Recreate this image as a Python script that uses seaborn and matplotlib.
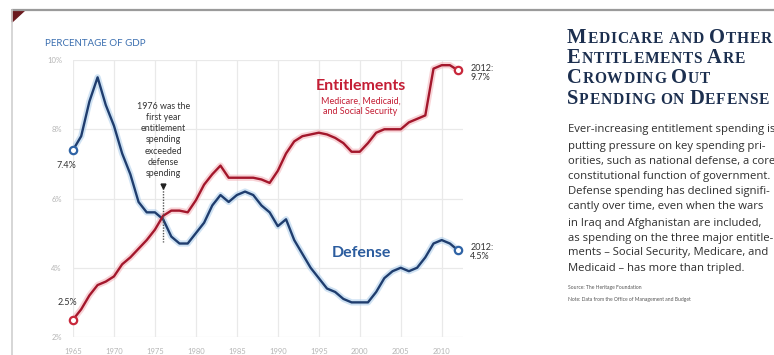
import matplotlib
matplotlib.use("Agg")
import matplotlib.pyplot as plt
import seaborn as sns
import pandas as pd
from matplotlib.lines import Line2D
from matplotlib.patches import Polygon

# ---------------- data ----------------
years = list(range(1965, 2013))
defense = [7.4, 7.8, 8.8, 9.5, 8.7, 8.1, 7.3, 6.7, 5.9, 5.6,
           5.6, 5.4, 4.9, 4.7, 4.7, 5.0, 5.3, 5.8, 6.1, 5.9,
           6.1, 6.2, 6.1, 5.8, 5.6, 5.2, 5.4, 4.8, 4.4, 4.0,
           3.7, 3.4, 3.3, 3.1, 3.0, 3.0, 3.0, 3.3, 3.7, 3.9,
           4.0, 3.9, 4.0, 4.3, 4.7, 4.8, 4.7, 4.5]
entitlements = [2.5, 2.8, 3.2, 3.5, 3.6, 3.75, 4.1, 4.3, 4.55, 4.8,
                5.1, 5.5, 5.65, 5.65, 5.6, 5.95, 6.4, 6.7, 6.95, 6.6,
                6.6, 6.6, 6.6, 6.55, 6.45, 6.8, 7.3, 7.65, 7.8, 7.85,
                7.9, 7.85, 7.75, 7.6, 7.35, 7.35, 7.6, 7.9, 8.0, 8.0,
                8.0, 8.2, 8.3, 8.4, 9.75, 9.85, 9.85, 9.7]
x_ticks = [1965, 1970, 1975, 1980, 1985, 1990, 1995, 2000, 2005, 2010]
y_ticks = [2, 4, 6, 8, 10]
y_tick_labels = ["2%", "4%", "6%", "8%", "10%"]

# title written as in title case; rendered as small caps
title_lines = ["Medicare and Other", "Entitlements Are", "Crowding Out", "Spending on Defense"]
body_lines = [
    "Ever-increasing entitlement spending is",
    "putting pressure on key spending pri-",
    "orities, such as national defense, a core",
    "constitutional function of government.",
    "Defense spending has declined signifi-",
    "cantly over time, even when the wars",
    "in Iraq and Afghanistan are included,",
    "as spending on the three major entitle-",
    "ments \u2013 Social Security, Medicare, and",
    "Medicaid \u2013 has more than tripled.",
]
source_text = "Source: The Heritage Foundation"
note_text = "Note: Data from the Office of Management and Budget"
annot_text = "1976 was the\nfirst year\nentitlement\nspending\nexceeded\ndefense\nspending"

df = pd.DataFrame({
    "year": years * 2,
    "pct": defense + entitlements,
    "series": ["Defense"] * len(years) + ["Entitlements"] * len(years),
})

# ---------------- style ----------------
sns.set_theme(style="white")
plt.rcParams["font.family"] = ["Lato", "DejaVu Sans"]

W, H = 774, 355
fig = plt.figure(figsize=(W / 100, H / 100), dpi=100)
fig.patch.set_facecolor("white")

def fx(px):
    return px / W

def fy(py):
    return 1 - py / H

ax = fig.add_axes([fx(73), fy(337), fx(463) - fx(73), fy(60) - fy(337)])
ax.set_facecolor("white")

navy = "#1f3d6e"
red = "#a3172c"
glow_pal = {"Defense": "#a9cbea", "Entitlements": "#f3b0b6"}
line_pal = {"Defense": navy, "Entitlements": red}

sns.lineplot(data=df, x="year", y="pct", hue="series", palette=glow_pal,
             linewidth=4.5, alpha=0.55, legend=False, ax=ax)
sns.lineplot(data=df, x="year", y="pct", hue="series", palette=line_pal,
             linewidth=1.7, legend=False, ax=ax)

# end markers
ends = pd.DataFrame({
    "year": [years[0], years[-1], years[0], years[-1]],
    "pct": [defense[0], defense[-1], entitlements[0], entitlements[-1]],
    "series": ["Defense", "Defense", "Entitlements", "Entitlements"],
})
edge_pal = {"Defense": "#2f63a5", "Entitlements": "#c8283b"}
for s, c in edge_pal.items():
    sub = ends[ends.series == s]
    sns.scatterplot(data=sub, x="year", y="pct", s=28, facecolor="white",
                    edgecolor=c, linewidth=1.6, ax=ax, zorder=5, clip_on=False,
                    legend=False)

ax.set_xlim(1965, 2012.6)
ax.set_ylim(2, 10)
ax.set_xticks(x_ticks)
ax.set_xticklabels([str(t) for t in x_ticks])
ax.set_yticks(y_ticks)
ax.set_yticklabels(y_tick_labels)
ax.tick_params(axis="both", length=0, labelsize=5.5, labelcolor="#b5b5b5")
ax.tick_params(axis="y", pad=8)
ax.tick_params(axis="x", pad=8)
ax.set_xlabel("")
ax.set_ylabel("")
ax.grid(True, color="#e9e9e9", linewidth=0.9)
for sp in ax.spines.values():
    sp.set_visible(False)
for coll in ax.collections:
    coll.set_clip_on(False)

# annotation
ax.plot([1976, 1976], [6.3, 4.75], linestyle=(0, (1, 1)), color="#555555", linewidth=1.0)
ax.plot([1976], [6.37], marker="v", color="#222222", markersize=3.5)
ax.text(1976, 8.8, annot_text, ha="center", va="top", fontsize=6.4,
        color="#333333", linespacing=1.33)

# series labels
ax.text(2000.1, 9.25, "Entitlements", ha="center", va="center", fontsize=11.5,
        fontweight="bold", color="#c41e35")
ax.text(2000.1, 8.95, "Medicare, Medicaid,\nand Social Security", ha="center", va="top",
        fontsize=6.5, color="#c41e35", linespacing=1.2)
ax.text(2000.2, 4.42, "Defense", ha="center", va="center", fontsize=11.5,
        fontweight="bold", color="#2b5c9e")

ax.text(2013.5, 9.63, "2012:\n9.7%", ha="left", va="center", fontsize=6.5,
        color="#333333", linespacing=1.05)
ax.text(2013.5, 4.45, "2012:\n4.5%", ha="left", va="center", fontsize=6.5,
        color="#333333", linespacing=1.05)
ax.text(1964.2, 6.95, "7.4%", ha="center", va="center", fontsize=6.5, color="#333333")
ax.text(1964.3, 3.0, "2.5%", ha="center", va="center", fontsize=6.5, color="#333333")

# header
fig.text(fx(45), fy(43), "PERCENTAGE OF GDP", ha="left", va="center", fontsize=7,
         color="#3b6fb0")

# frame decorations
fig.add_artist(Line2D([fx(12), 1], [fy(10), fy(10)], color="#9a9a9a", linewidth=1.6))
fig.add_artist(Line2D([fx(12.5), fx(12.5)], [fy(10), 0], color="#cfcfcf", linewidth=1.2))
fig.add_artist(Polygon([[fx(12), fy(10)], [fx(25), fy(10)], [fx(12), fy(22)]],
                       closed=True, color="#6b1a1f", transform=fig.transFigure))

# title in small caps
renderer = fig.canvas.get_renderer()
title_color = "#1c2f4f"
big, small = 14.8, 11.2
title_y = [43, 63, 83, 104]
for line, yb in zip(title_lines, title_y):
    xpos = 567
    words = line.split(" ")
    for wi, word in enumerate(words):
        for ch in word:
            sz = big if ch.isupper() else small
            t = fig.text(fx(xpos), fy(yb), ch.upper(), ha="left", va="baseline",
                         fontsize=sz, color=title_color, fontweight="bold",
                         family=["Liberation Serif", "DejaVu Serif"])
            bb = t.get_window_extent(renderer)
            xpos += bb.width + 0.7
        if wi < len(words) - 1:
            xpos += 4.5

body_y = [130, 146, 161, 177, 192, 207, 223, 238, 253, 268]
for line, yc in zip(body_lines, body_y):
    fig.text(fx(568), fy(yc), line, ha="left", va="center", fontsize=8.1,
             color="#2e2e2e", family=["Open Sans", "DejaVu Sans"])
fig.text(fx(568), fy(287), source_text, ha="left", va="center", fontsize=3.6, color="#555555")
fig.text(fx(568), fy(300), note_text, ha="left", va="center", fontsize=3.6, color="#555555")

fig.savefig("out.png", dpi=100)
